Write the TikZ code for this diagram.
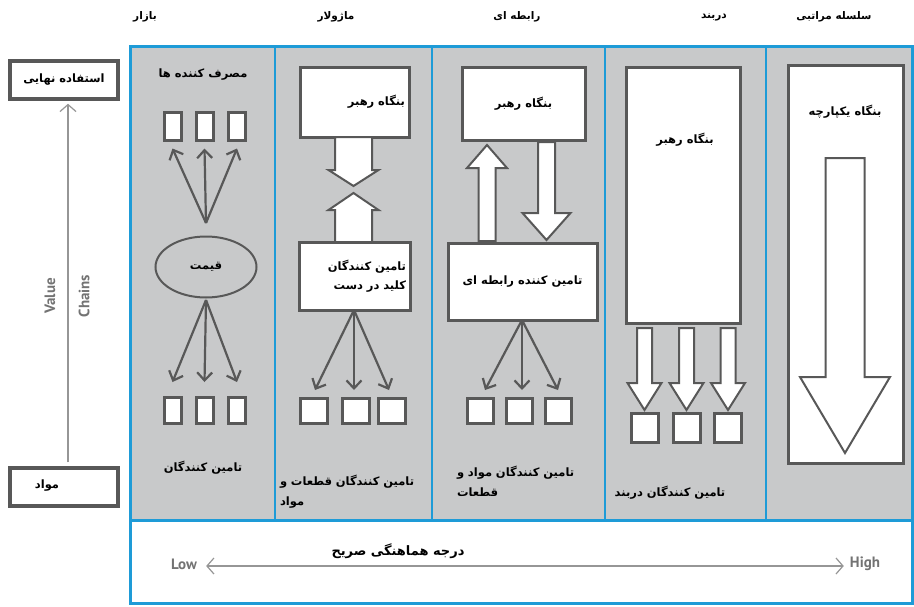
\documentclass[tikz,border=0pt]{standalone}
\usepackage{fontspec}
\usetikzlibrary{arrows.meta,shapes.geometric,calc}
\TeXXeTstate=1
\newfontfamily\fa[Script=Arabic]{DejaVu Sans}
\newfontfamily\lat{PT Sans}
\newcommand\rl[1]{\mbox{\beginR #1\endR}}
\definecolor{frameblue}{RGB}{30,155,215}
\definecolor{panelgray}{RGB}{200,201,202}
\definecolor{boxline}{RGB}{88,88,88}
\definecolor{lightline}{RGB}{150,150,150}
\definecolor{labelgray}{RGB}{115,115,115}
\newcommand\blockarr[6]{%
  \draw[barrow] (#1-#5,#2) -- (#1-#5,#3) -- (#1-#6,#3) -- (#1,#4) -- (#1+#6,#3) -- (#1+#5,#3) -- (#1+#5,#2) -- cycle;}
\begin{document}
\begin{tikzpicture}[x=1pt,y=-1pt,
  fa/.style={font=\fa\bfseries\fontsize{11.5}{20}\selectfont, inner sep=1pt},
  hdr/.style={font=\fa\bfseries\fontsize{10.5}{12}\selectfont, inner sep=1pt},
  wbox/.style={draw=boxline, fill=white, line width=3pt, inner sep=0pt},
  lbox/.style={draw=boxline, fill=white, line width=3.5pt, inner sep=0pt, minimum width=108pt},
  fan/.style={draw=boxline, line width=2.2pt, -{Straight Barb[length=8pt,width=15pt]}},
  barrow/.style={draw=boxline, fill=white, line width=2pt, line join=miter},
  vc/.style={font=\lat\bfseries\fontsize{15}{16}\selectfont, text=labelgray},
  lh/.style={font=\lat\bfseries\fontsize{15}{16}\selectfont, text=labelgray, inner sep=1pt}]
\useasboundingbox (0,0) rectangle (914,606);
\fill[white] (0,0) rectangle (914,606);
% panels
\fill[panelgray] (130,46) rectangle (912,520);
\draw[frameblue, line width=3pt] (130,46) rectangle (912,603);
\draw[frameblue, line width=3pt] (130,520) -- (912,520);
\foreach \xx in {275,432,605,766} \draw[frameblue, line width=2.5pt] (\xx,46) -- (\xx,520);
% headers
\node[hdr] (h1) at (145,17) {\rl{بازار}};
\node[hdr] (h2) at (336,17) {\rl{ماژولار}};
\node[hdr] (h3) at (517,17) {\rl{رابطه ای}};
\node[hdr] (h4) at (714,17) {\rl{دربند}};
\node[hdr] (h5) at (834,17) {\rl{سلسله مراتبی}};
% left axis
\node[lbox, minimum height=38pt, fa] (endu) at (64,80) {\rl{استفاده نهایی}};
\node[lbox, minimum height=38pt] (mavad) at (64,487) {};
\node[fa] (mavadt) at (47,486) {\rl{مواد}};
\draw[lightline, line width=1.2pt, -{Straight Barb[length=7pt,width=16pt]}, shorten <=4pt, shorten >=3pt]
  ([xshift=4pt]mavad.north) -- ([xshift=4pt]endu.south);
\node[vc, rotate=90] (value) at (50,296) {Value};
\node[vc, rotate=90] (chains) at (84,296) {Chains};
% ---- market
\node[fa] (cons) at (203,75) {\rl{مصرف کننده ها}};
\foreach \i/\xx in {1/172.5,2/204.5,3/237}{
  \node[wbox, minimum width=17pt, minimum height=28pt] (mt\i) at (\xx,126) {};
  \node[wbox, minimum width=17pt, minimum height=26pt] (mb\i) at (\xx,410.5) {};}
\node[ellipse, draw=boxline, line width=2pt, fill=panelgray, minimum width=101pt, minimum height=61pt, fa] (price) at (206,267) {\rl{قیمت}};
\coordinate (mtop) at (206,223);
\coordinate (mbot) at (206,300);
\foreach \i in {1,2,3} {
  \draw[fan] (mtop) -- ([yshift=-7pt]mt\i.south);
  \draw[fan] (mbot) -- ([yshift=14pt]mb\i.north);}
\node[fa] (supm) at (203,468) {\rl{تامین کنندگان}};
% ---- modular
\node[wbox, minimum width=109pt, minimum height=70pt, text width=101pt, align=right, fa] (lead2) at (354.5,102) {\rl{بنگاه رهبر}};
\node[wbox, minimum width=111pt, minimum height=68pt, text width=103pt, align=right, fa, font=\fa\bfseries\fontsize{11.5}{19}\selectfont] (key) at (354.5,276) {\rl{تامین کنندگان}\\\rl{کلید در دست}};
\blockarr{353.5}{137}{170}{186}{18.5}{25}
\blockarr{353.5}{242}{210}{193}{18.5}{25}
\coordinate (kfan) at (354,310);
\foreach \i/\xx/\tx in {1/313.5/315,2/355.5/354,3/392/389}{
  \node[wbox, minimum width=27pt, minimum height=25pt] (q\i) at (\xx,410.5) {};
  \draw[fan] (kfan) -- (\tx,390);}
\node[fa, text width=142pt, align=left] (supq) at (351,492) {\rl{تامین کنندگان قطعات و}\\\rl{مواد}};
% ---- relational
\node[wbox, minimum width=123pt, minimum height=73pt, fa] (lead3) at (523.5,103.5) {\rl{بنگاه رهبر}};
\node[wbox, minimum width=149pt, minimum height=77pt, fa] (rel) at (522.5,281.5) {\rl{تامین کننده رابطه ای}};
\blockarr{487}{241}{168}{145}{8.5}{20}
\blockarr{546.5}{142}{213}{240}{8.5}{24}
\coordinate (rfan) at (522,320);
\foreach \i/\xx/\tx in {1/480/485,2/519.5/522,3/558.5/558}{
  \node[wbox, minimum width=26pt, minimum height=25pt] (r\i) at (\xx,410.5) {};
  \draw[fan] (rfan) -- (\tx,390);}
\node[fa, text width=124pt, align=left] (supr) at (519,481) {\rl{تامین کنندگان مواد و}\\\rl{قطعات}};
% ---- captive
\node[wbox, minimum width=114pt, minimum height=256pt] (cap) at (683,195) {};
\node[fa] (capt) at (685,140) {\rl{بنگاه رهبر}};
\foreach \i/\xx in {1/644.5,2/686.5,3/728}{
  \blockarr{\xx}{328}{383}{410}{7.5}{17}
  \node[wbox, minimum width=27pt, minimum height=29pt] (c\i) at (\xx,428) {};}
\node[fa] (supc) at (670,493) {\rl{تامین کنندگان دربند}};
% ---- hierarchy
\node[wbox, minimum width=115pt, minimum height=398pt] (hier) at (845.5,264) {};
\node[fa] (hiert) at (845,112) {\rl{بنگاه یکپارچه}};
\blockarr{845}{158}{377}{453}{19.5}{45}
% ---- bottom scale
\node[lh] (low) at (184,564) {Low};
\node[lh] (high) at (865,564) {High};
\draw[lightline, line width=1.2pt, {Straight Barb[length=7pt,width=16pt]}-{Straight Barb[length=7pt,width=16pt]}, shorten <=8pt, shorten >=5pt]
  ([yshift=-2pt]low.east) -- ([yshift=-2pt]high.west);
\node[fa, font=\fa\bfseries\fontsize{13}{16}\selectfont] (deg) at (398,551) {\rl{درجه هماهنگی صریح}};
\end{tikzpicture}
\end{document}
